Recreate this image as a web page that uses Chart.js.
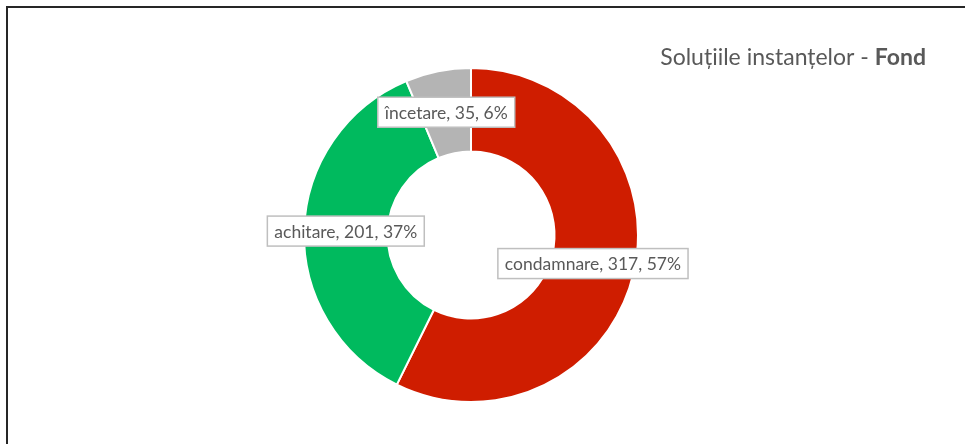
<!DOCTYPE html>
<html>
<head>
<meta charset="utf-8">
<script src="https://cdn.jsdelivr.net/npm/chart.js@4/dist/chart.umd.min.js"></script>
<style>
  html, body { margin: 0; padding: 0; background: #fff; overflow: hidden; }
  #wrap { position: relative; width: 965px; height: 444px; }
  #frame { position: absolute; left: 6px; top: 6px; width: 1000px; height: 500px; border: 2px solid #262626; box-sizing: border-box; }
  canvas { position: absolute; left: 0; top: 0; }
</style>
</head>
<body>
<div id="wrap">
  <div id="frame"></div>
  <canvas id="chart_fond" width="965" height="444"></canvas>
</div>
<script>
// data
var categories = ['condamnare', 'achitare', 'încetare']
var values = [317, 201, 35]
var percents = ['57%', '37%', '6%']
var colors = ['#CF1D00', '#00BA5E', '#B4B4B4']

var TEXT_COLOR = '#595959'
var FONT = 'Lato, "Open Sans", sans-serif'

// boxed data labels at the middle of each ring segment
var boxLabels = {
  id: 'boxLabels',
  afterDatasetsDraw(chart) {
    var ctx = chart.ctx
    var meta = chart.getDatasetMeta(0)
    ctx.save()
    ctx.font = '17.5px ' + FONT
    ctx.textAlign = 'center'
    ctx.textBaseline = 'middle'
    meta.data.forEach(function (arc, i) {
      var p = arc.getCenterPoint()
      var txt = categories[i] + ', ' + values[i] + ', ' + percents[i]
      var w = ctx.measureText(txt).width + 14
      var h = 30
      ctx.fillStyle = '#fff'
      ctx.fillRect(p.x - w / 2, p.y - h / 2, w, h)
      ctx.strokeStyle = '#BFBFBF'
      ctx.lineWidth = 1.5
      ctx.strokeRect(p.x - w / 2, p.y - h / 2, w, h)
      ctx.fillStyle = TEXT_COLOR
      ctx.fillText(txt, p.x, p.y + 1)
    })
    ctx.restore()
  }
}

// title with a bold last word, right aligned at the top
var mixedTitle = {
  id: 'mixedTitle',
  afterDraw(chart) {
    var ctx = chart.ctx
    ctx.save()
    ctx.fillStyle = TEXT_COLOR
    ctx.textBaseline = 'alphabetic'
    ctx.textAlign = 'right'
    ctx.font = 'bold 23px ' + FONT
    var right = 926
    var bold = 'Fond'
    ctx.fillText(bold, right, 65)
    var bw = ctx.measureText(bold).width
    ctx.font = '23px ' + FONT
    ctx.fillText('Soluțiile instanțelor - ', right - bw, 65)
    ctx.restore()
  }
}

var chart_fond = document.getElementById('chart_fond').getContext('2d')

var mychart = new Chart(chart_fond, {
  type: 'doughnut',
  data: {
    labels: categories,
    datasets: [{
      data: values,
      backgroundColor: colors,
      borderColor: '#ffffff',
      borderWidth: 2
    }]
  },
  options: {
    responsive: false,
    animation: false,
    cutout: '50%',
    layout: { padding: { top: 67, bottom: 41, left: 303, right: 326 } },
    plugins: {
      legend: { display: false },
      tooltip: { enabled: false },
      title: { display: false }
    }
  },
  plugins: [boxLabels, mixedTitle]
})
</script>
</body>
</html>
